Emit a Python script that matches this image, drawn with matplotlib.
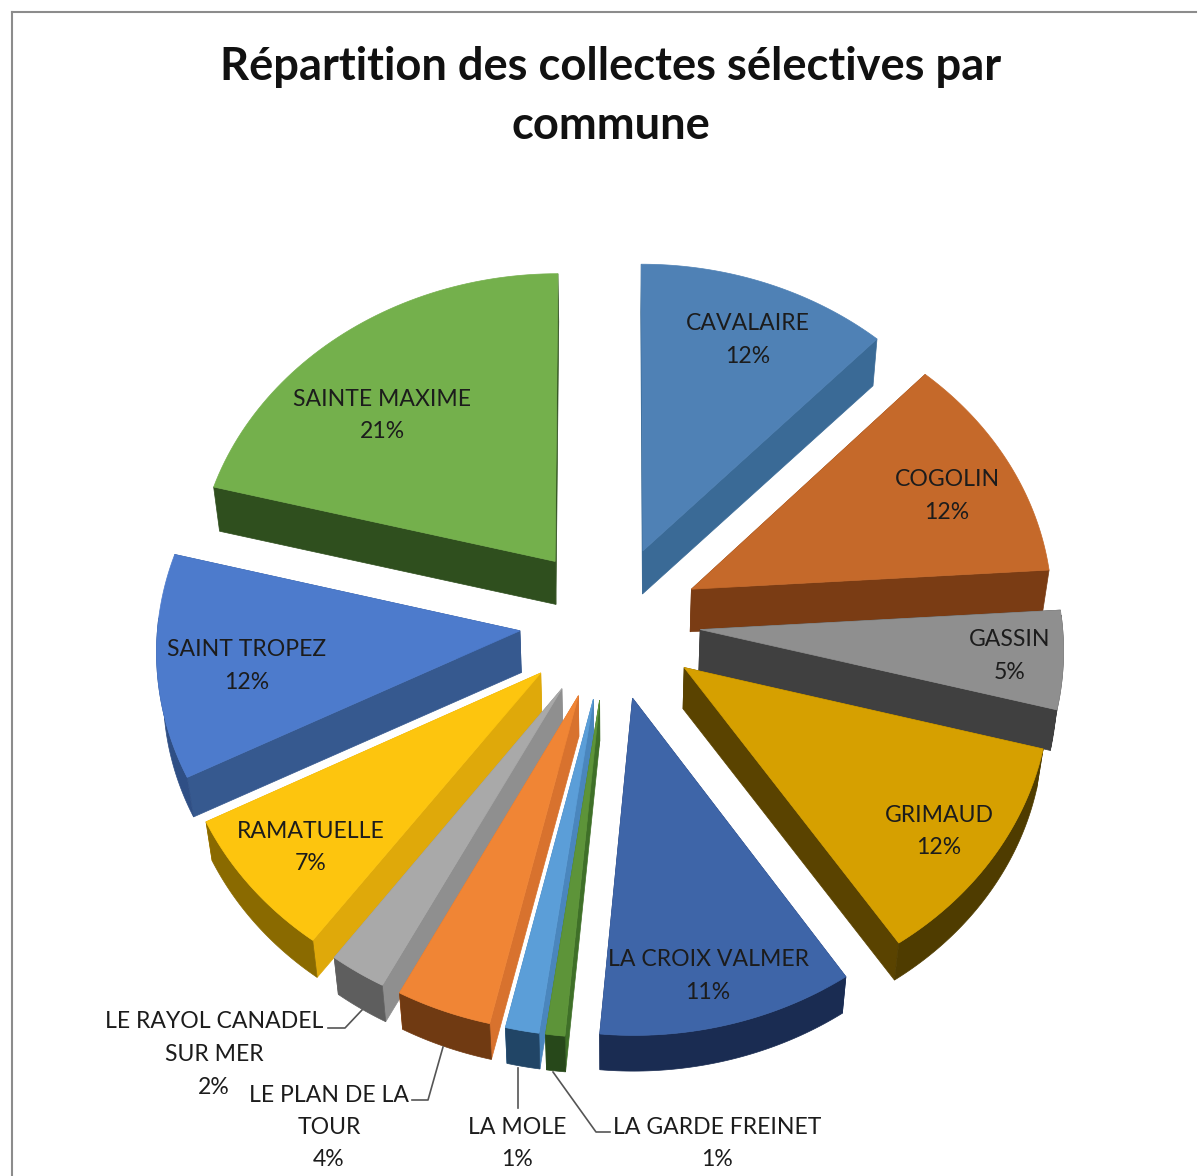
import numpy as np
import matplotlib
matplotlib.use("Agg")
import matplotlib.pyplot as plt
from matplotlib.patches import Polygon

plt.rcParams["font.family"] = ["Lato", "DejaVu Sans"]

communes = ["CAVALAIRE", "COGOLIN", "GASSIN", "GRIMAUD", "LA CROIX VALMER",
            "LA GARDE FREINET", "LA MOLE", "LE PLAN DE LA\nTOUR",
            "LE RAYOL CANADEL\nSUR MER", "RAMATUELLE", "SAINT TROPEZ",
            "SAINTE MAXIME"]
# they round to the printed labels
valeurs = [12, 12, 5.1, 11.6, 10.7, 0.8, 1.4, 4, 2.4, 7.4, 11.6, 21]

# colours: top face, straight wall, outer wall
top_col = ["#4f81b5", "#c5692a", "#8f8f8f", "#d6a000", "#3e65a8", "#5d9439",
           "#5b9ed8", "#f08535", "#a9a9a9", "#fdc50e", "#4d7bcc", "#74b04c"]
side_col = ["#3a6a96", "#7a3c14", "#404040", "#5a4300", "#24396a", "#3f7028",
            "#4a86bd", "#d8722e", "#8f8f8f", "#dfa90a", "#36598f", "#2f4f1e"]
outer_col = ["#2f557a", "#6a3411", "#404040", "#4f3c00", "#1a2c52", "#27481a",
             "#214566", "#703a12", "#5e5e5e", "#8a6a00", "#2f4f85", "#2c4a1c"]

# label anchor (centre x, y of first line)
label_pos = [(748, 324), (947, 480), (1010, 640), (939, 815), (708, 960),
             (717, 1127), (517, 1127), (329, 1095), (214, 1022), (311, 831),
             (247, 650), (382, 399)]

cx, cy = 610, 622
S, K = 362, 310 / 362
explode = 0.25
persp = 0.055
depth = 42
line_h = 32.5


def project(X, Y):
    f = 1 / (1 - persp * Y)
    return cx + S * X * f, cy + S * K * Y * f


def lower(x, y, Y):
    # same point on the underside of the slice
    return cx + (x - cx) * 0.985, y + depth * (1 - 0.12 * Y)


fig = plt.figure(figsize=(12.01, 11.76), dpi=100)
ax = fig.add_axes([0, 0, 1, 1])
ax.set_xlim(0, 1201)
ax.set_ylim(1176, 0)
ax.axis("off")

ax.plot([12, 12], [1176, 12], color="#8c8c8c", lw=1.5)
ax.plot([12, 1196], [12, 12], color="#8c8c8c", lw=1.5)

total = sum(valeurs)
ends = np.cumsum(valeurs) / total * 2 * np.pi
starts = ends - np.array(valeurs) / total * 2 * np.pi
mids = (starts + ends) / 2

# paint from the back of the pie to the front
for i in np.argsort(-np.cos(mids)):
    t = np.linspace(starts[i], ends[i], 60)
    ox, oy = explode * np.sin(mids[i]), -explode * np.cos(mids[i])
    Y = oy - np.cos(t)
    arc_x, arc_y = project(ox + np.sin(t), Y)
    low_x, low_y = lower(arc_x, arc_y, Y)
    tip_x, tip_y = project(ox, oy)
    tip_lx, tip_ly = lower(tip_x, tip_y, oy)

    for j in (0, -1):
        wall = [(tip_x, tip_y), (arc_x[j], arc_y[j]),
                (low_x[j], low_y[j]), (tip_lx, tip_ly)]
        ax.add_patch(Polygon(wall, fc=side_col[i], ec=side_col[i], lw=0.5))

    front = np.cos(t) < 0.05
    if front.any():
        wall = np.r_[np.c_[arc_x[front], arc_y[front]],
                     np.c_[low_x[front], low_y[front]][::-1]]
        ax.add_patch(Polygon(wall, fc=outer_col[i], ec=outer_col[i], lw=0.5))

    face = np.r_[[[tip_x, tip_y]], np.c_[arc_x, arc_y]]
    ax.add_patch(Polygon(face, fc=top_col[i], ec=top_col[i], lw=0.5))

for name, val, (lx, ly) in zip(communes, valeurs, label_pos):
    lines = name.split("\n") + [f"{round(val)}%"]
    for n, line in enumerate(lines):
        ax.text(lx, ly + n * line_h, line, ha="center", va="center",
                fontsize=16.6, color="#1c1c1c")

# leader lines
leaders = [([328, 345, 362], [1028, 1028, 1010]),
           ([412, 428, 443], [1100, 1100, 1047]),
           ([518, 518], [1068, 1108]),
           ([610, 596, 553], [1132, 1132, 1072])]
for xs, ys in leaders:
    ax.plot(xs, ys, color="#555555", lw=1.2)

ax.text(611, 67, "Répartition des collectes sélectives par", ha="center",
        va="center", fontsize=32.6, fontweight="bold", color="#111111")
ax.text(611, 126, "commune", ha="center",
        va="center", fontsize=32.6, fontweight="bold", color="#111111")

fig.savefig("out.png", dpi=100)
